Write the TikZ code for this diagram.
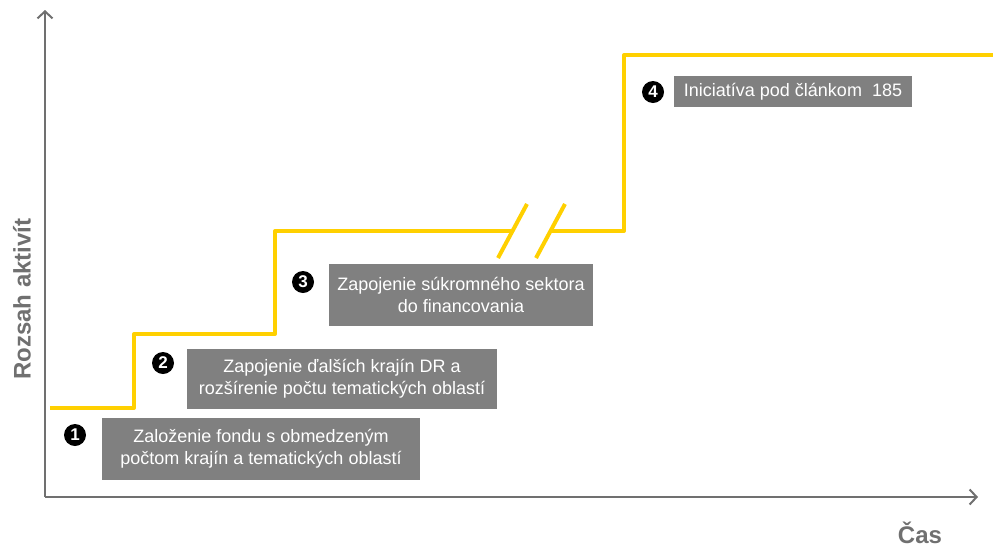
\documentclass[tikz,border=0pt]{standalone}
\usepackage{fontspec}
\setmainfont{Liberation Sans}
\usetikzlibrary{arrows.meta}
\definecolor{axisgray}{RGB}{112,112,112}
\definecolor{boxgray}{RGB}{128,128,128}
\definecolor{stepyellow}{RGB}{255,208,0}
\begin{document}
\begin{tikzpicture}[x=1pt,y=-1pt,
  axis/.style={draw=axisgray,line width=2.2pt,-{Straight Barb[length=7pt,width=15pt,line width=2pt]}},
  stepline/.style={draw=stepyellow,line width=4pt,line join=round},
  infobox/.style={fill=boxgray,text=white,font=\fontsize{18}{22}\selectfont,align=center,inner sep=0pt},
  marker/.style={circle,fill=black,text=white,inner sep=0pt,minimum size=22pt,font=\fontsize{17}{17}\selectfont\bfseries},
  axislabel/.style={text=axisgray,font=\fontsize{24}{24}\selectfont\bfseries,inner sep=0pt}]
\useasboundingbox (0,0) rectangle (993,547);
% axes
\coordinate (o) at (45,497);
\coordinate (ytop) at (45,10);
\coordinate (xend) at (978,497);
\draw[axis] (o) -- (ytop);
\draw[axis] (o) -- (xend);
\node[axislabel,rotate=90] (ylab) at (22,299) {Rozsah aktivít};
\node[axislabel] (xlab) at (920,533) {Čas};
% step line
\coordinate (s0) at (50,408);
\coordinate (s1) at (134,408);
\coordinate (s2) at (134,334);
\coordinate (s3) at (275,334);
\coordinate (s4) at (275,231);
\coordinate (s5) at (512,231);
\coordinate (s6) at (551,231);
\coordinate (s7) at (624,231);
\coordinate (s8) at (624,55);
\coordinate (s9) at (995,55);
\draw[stepline] (s0) -- (s1) -- (s2) -- (s3) -- (s4) -- (s5);
\draw[stepline] (s6) -- (s7) -- (s8) -- (s9);
\coordinate (k1a) at (527,204);
\coordinate (k1b) at (498,258);
\coordinate (k2a) at (565,204);
\coordinate (k2b) at (536,258);
\draw[stepline] (k1a) -- (k1b);
\draw[stepline] (k2a) -- (k2b);
% boxes
\node[infobox,minimum width=318pt,minimum height=62pt] (b1) at (261,449) {Založenie fondu s obmedzeným\\počtom krajín a tematických oblastí};
\node[infobox,minimum width=310pt,minimum height=60pt] (b2) at (342,379) {Zapojenie ďalších krajín DR a\\rozšírenie počtu tematických oblastí};
\node[infobox,minimum width=264pt,minimum height=62pt] (b3) at (461,295) {Zapojenie súkromného sektora\\do financovania};
\node[infobox,minimum width=238pt,minimum height=31pt] (b4) at (793,91.5) {Iniciatíva pod článkom\ \ 185};
% markers
\node[marker] (m1) at (75,435) {1};
\node[marker] (m2) at (163,363) {2};
\node[marker] (m3) at (303,282) {3};
\node[marker] (m4) at (653,92) {4};
\end{tikzpicture}
\end{document}
